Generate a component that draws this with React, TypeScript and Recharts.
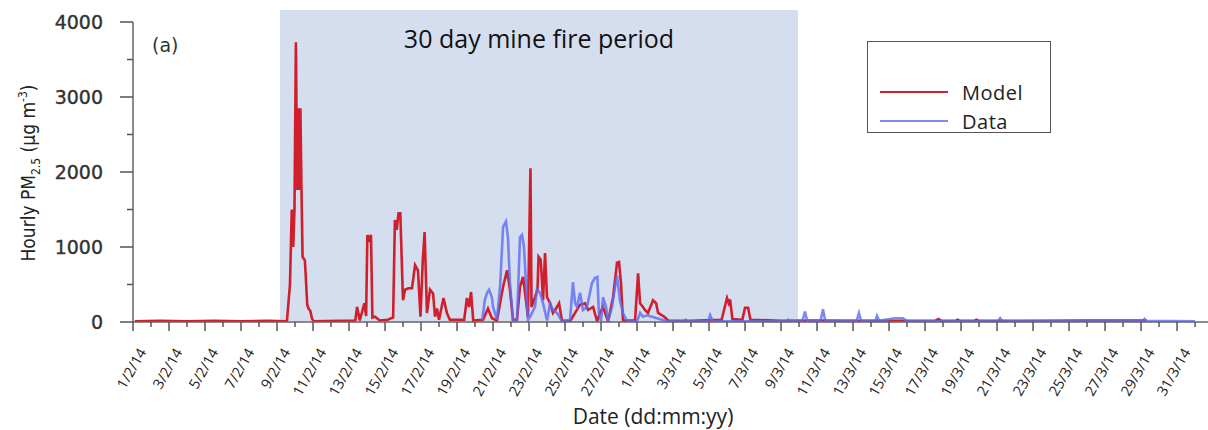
import { Legend, Line, LineChart, ReferenceArea, XAxis, YAxis } from "recharts"

// days since 1 Feb 2014, hourly PM2.5 (ug m-3)
const modelDays = [
  0.1, 1.5, 3.0, 4.5, 6.0, 7.5, 8.55, 8.72, 8.82, 8.9, 8.97, 9.05, 9.12, 9.18, 9.24, 9.3, 9.36, 9.42, 9.55, 9.68,
  9.75, 9.85, 9.95, 10.05, 11.5, 12.35, 12.45, 12.6, 12.85, 12.95, 13.02, 13.12, 13.22, 13.3, 13.45, 13.7, 14.15,
  14.45, 14.55, 14.65, 14.75, 14.85, 14.94, 15.0, 15.11, 15.3, 15.5, 15.67, 15.83, 15.97, 16.1, 16.2, 16.33, 16.5,
  16.67, 16.78, 16.89, 17.0, 17.25, 17.44, 17.6, 18.4, 18.55, 18.67, 18.78, 18.9, 19.45, 19.72, 19.94, 20.22, 20.56,
  20.78, 20.94, 21.11, 21.33, 21.5, 21.67, 21.78, 21.94, 22.08, 22.14, 22.33, 22.47, 22.53, 22.65, 22.78, 22.89,
  23.0, 23.17, 23.33, 23.5, 23.67, 23.83, 24.28, 24.83, 25.11, 25.28, 25.56, 25.78, 25.94, 26.11, 26.39, 26.67,
  26.89, 27.0, 27.11, 27.22, 27.89, 28.06, 28.17, 28.33, 28.44, 28.61, 28.89, 29.06, 29.17, 29.39, 29.56, 29.72,
  31.0, 32.7, 33.0, 33.1, 33.17, 33.3, 33.85, 34.0, 34.17, 34.3, 36.0, 38.0, 40.0, 44.6, 44.75, 44.9, 45.7, 45.8,
  45.95, 46.75, 46.85, 47.0, 50.0, 53.0, 56.3,
]
const modelValues = [
  10, 15, 10, 15, 10, 15, 10, 500, 1500, 1000, 1500, 3730, 1760, 2850, 1760, 2850, 1760, 870, 820, 230,
  180, 150, 40, 10, 15, 20, 200, 20, 250, 80, 1160, 1100, 1160, 60, 70, 20, 30,
  60, 1360, 1230, 1450, 1450, 740, 290, 430, 450, 450, 760, 690, 70, 830, 1200, 120, 430,
  380, 70, 180, 30, 320, 120, 30, 30, 320, 200, 400, 20, 30, 180, 50, 20, 470,
  690, 430, 30, 30, 470, 600, 390, 70, 2050, 200, 330, 430, 870, 830, 290, 920,
  330, 250, 120, 180, 250, 20, 10, 230, 250, 160, 200, 10, 120, 200, 10, 330,
  790, 800, 520, 20, 20, 650, 250, 200, 160, 120, 290, 250, 120, 90, 60, 20,
  15, 30, 320, 250, 300, 40, 30, 190, 190, 30, 15, 20, 15, 20, 40, 15, 15, 30,
  15, 15, 30, 15, 15, 20, 20,
]

const obsDays = [
  19.4, 19.55, 19.67, 19.78, 19.94, 20.0, 20.22, 20.4, 20.56, 20.72, 20.83, 20.94, 21.11, 21.33, 21.5, 21.61,
  21.72, 21.83, 21.94, 22.17, 22.33, 22.44, 22.61, 22.78, 23.0, 23.17, 23.33, 23.56, 23.83, 24.28, 24.44, 24.56,
  24.67, 24.83, 25.0, 25.22, 25.5, 25.67, 25.8, 25.88, 26.0, 26.11, 26.28, 26.39, 26.61, 26.78, 26.89, 27.05,
  27.22, 27.44, 28.0, 28.17, 28.33, 28.56, 28.83, 29.11, 29.67, 30.6, 30.7, 30.8, 31.95, 32.06, 32.2, 36.3, 36.4,
  36.5, 37.2, 37.33, 37.45, 38.2, 38.33, 38.45, 40.2, 40.33, 40.45, 41.25, 41.33, 41.45, 42.33, 42.78, 43.0, 48.05,
  48.17, 48.3, 56.1, 56.2, 56.3, 59.0,
]
const obsValues = [
  20, 300, 390, 430, 330, 200, 30, 500, 1270, 1340, 1130, 520, 20, 10, 1130, 1160,
  1000, 520, 20, 120, 200, 430, 390, 250, 20, 250, 160, 120, 10, 30, 530, 250,
  200, 390, 160, 200, 520, 590, 600, 120, 10, 330, 200, 10, 200, 470, 620, 290,
  120, 10, 10, 120, 70, 90, 70, 50, 10, 10, 30, 10, 10, 90, 10, 10, 30,
  10, 20, 140, 20, 20, 170, 20, 15, 120, 15, 15, 80, 15, 50, 50, 10, 10,
  50, 10, 15, 40, 15, 10,
]

const tickLabels = [
  "1/2/14", "3/2/14", "5/2/14", "7/2/14", "9/2/14", "11/2/14", "13/2/14", "15/2/14", "17/2/14", "19/2/14",
  "21/2/14", "23/2/14", "25/2/14", "27/2/14", "1/3/14", "3/3/14", "5/3/14", "7/3/14", "9/3/14", "11/3/14",
  "13/3/14", "15/3/14", "17/3/14", "19/3/14", "21/3/14", "23/3/14", "25/3/14", "27/3/14", "29/3/14", "31/3/14",
]
const yTicks = [0, 500, 1000, 1500, 2000, 2500, 3000, 3500, 4000]
const fireStart = 8.17
const fireEnd = 36.94

const modelData = modelDays.map((d, i) => ({ day: d, pm: modelValues[i] }))
const obsData = obsDays.map((d, i) => ({ day: d, pm: obsValues[i] }))
const dayTicks = Array.from({ length: 60 }, (_, i) => i)

const W = 1208
const H = 430
const AXIS_X = 133
const AXIS_Y = 322
const MODEL_COLOR = "#d01f2c"
const DATA_COLOR = "#5d6cf2"

function XTick(props: any) {
  const { x, payload } = props
  const day = payload.value
  const major = day % 2 === 0
  const tx = x + 14
  const ty = 352
  return (
    <g>
      <line x1={x} x2={x} y1={AXIS_Y} y2={major ? AXIS_Y + 9 : AXIS_Y + 5} stroke="#555" strokeWidth={1.5} />
      {major && (
        <text
          x={tx}
          y={ty}
          transform={`rotate(-60 ${tx} ${ty})`}
          textAnchor="end"
          fontSize={14.5}
          fontFamily="Open Sans"
          fill="#222"
        >
          {tickLabels[day / 2]}
        </text>
      )}
    </g>
  )
}

function YTick(props: any) {
  const { y, payload } = props
  const v = payload.value
  const major = v % 1000 === 0
  return (
    <g>
      <line x1={major ? AXIS_X - 13 : AXIS_X - 6} x2={AXIS_X} y1={y} y2={y} stroke="#555" strokeWidth={1.5} />
      {major && (
        <text
          x={103}
          y={y + 7}
          textAnchor="end"
          fontSize={19}
          fontFamily="DejaVu Sans"
          fill="#333"
          stroke="#333"
          strokeWidth={0.4}
        >
          {v}
        </text>
      )}
    </g>
  )
}

function YTitle() {
  const cx = 35
  const cy = 173
  return (
    <text
      x={cx}
      y={cy}
      transform={`rotate(-90 ${cx} ${cy})`}
      textAnchor="middle"
      fontSize={19}
      fontFamily="'DejaVu Sans Condensed', 'Liberation Sans Narrow', 'Liberation Sans', sans-serif"
      fontStretch="condensed"
      fill="#222"
    >
      Hourly PM
      <tspan fontSize={12} dy={5}>2.5</tspan>
      <tspan dy={-5}> (μg m</tspan>
      <tspan fontSize={12} dy={-8}>-3</tspan>
      <tspan dy={8}>)</tspan>
    </text>
  )
}

function XTitle() {
  return (
    <text x={653} y={424} textAnchor="middle" fontSize={21} fontFamily="Open Sans" fill="#222">
      Date (dd:mm:yy)
    </text>
  )
}

function LegendBox() {
  const items = [
    { name: "Model", color: MODEL_COLOR, opacity: 1 },
    { name: "Data", color: DATA_COLOR, opacity: 0.8 },
  ]
  return (
    <div
      style={{
        width: 184,
        height: 92,
        boxSizing: "border-box",
        border: "1.5px solid #555",
        background: "#fff",
        position: "relative",
        fontFamily: "Open Sans",
      }}
    >
      {items.map((it, i) => (
        <div key={it.name} style={{ position: "absolute", left: 12, top: 36 + i * 29, height: 28, display: "flex", alignItems: "center" }}>
          <div style={{ width: 68, height: 2, background: it.color, opacity: it.opacity }} />
          <span style={{ marginLeft: 14, fontSize: 20, color: "#222", letterSpacing: 0.5 }}>{it.name}</span>
        </div>
      ))}
    </div>
  )
}

export default function App() {
  return (
    <div style={{ position: "absolute", left: 0, top: 0, width: W, height: H, background: "#fff" }}>
      <LineChart width={W} height={H} margin={{ top: 22, right: 0, bottom: 0, left: 0 }}>
        <ReferenceArea
          x1={fireStart}
          x2={fireEnd}
          y1={0}
          y2={4160}
          ifOverflow="visible"
          fill="#d5deef"
          fillOpacity={1}
          stroke="none"
          label={{
            value: "30 day mine fire period",
            position: "insideTop",
            offset: 20,
            fontSize: 25,
            fontFamily: "Open Sans",
            fill: "#111",
          }}
        />
        <XAxis
          type="number"
          dataKey="day"
          domain={[0, 59.72]}
          ticks={dayTicks}
          interval={0}
          height={108}
          tickLine={false}
          axisLine={{ stroke: "#666", strokeWidth: 1.5 }}
          tick={<XTick />}
          label={<XTitle />}
          allowDataOverflow
        />
        <YAxis
          type="number"
          domain={[0, 4000]}
          ticks={yTicks}
          interval={0}
          width={AXIS_X}
          tickLine={false}
          axisLine={{ stroke: "#666", strokeWidth: 1.5 }}
          tick={<YTick />}
          label={<YTitle />}
          allowDataOverflow
        />
        <Legend
          layout="vertical"
          align="center"
          verticalAlign="middle"
          content={<LegendBox />}
          wrapperStyle={{ position: "absolute", left: 867, top: 41, width: 184, height: 92 }}
        />
        <Line
          data={modelData}
          dataKey="pm"
          name="Model"
          type="linear"
          stroke={MODEL_COLOR}
          strokeWidth={2.6}
          dot={false}
          isAnimationActive={false}
        />
        <Line
          data={obsData}
          dataKey="pm"
          name="Data"
          type="linear"
          stroke={DATA_COLOR}
          strokeOpacity={0.8}
          strokeWidth={2.6}
          dot={false}
          isAnimationActive={false}
        />
      </LineChart>
      <div
        style={{
          position: "absolute",
          left: 152,
          top: 33,
          fontSize: 19,
          fontFamily: "DejaVu Sans",
          color: "#333",
          lineHeight: "24px",
        }}
      >
        (a)
      </div>
    </div>
  )
}
